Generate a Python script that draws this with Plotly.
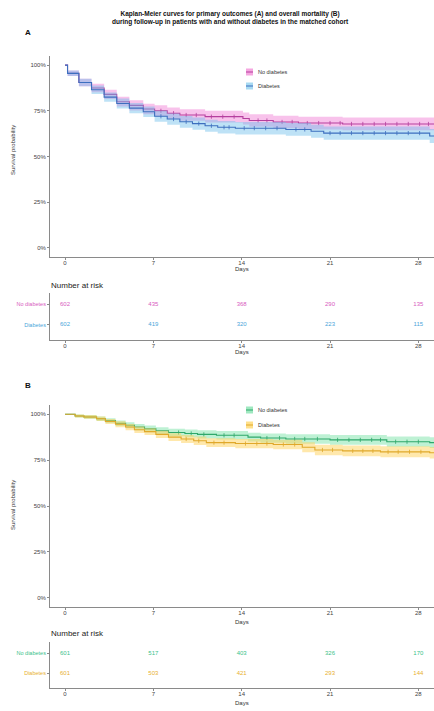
import plotly.graph_objects as go

W, H = 434, 711

# ---------------- DATA ----------------
title_lines = ["Kaplan-Meier curves for primary outcomes (A) and overall mortality (B)",
               "during follow-up in patients with and without diabetes in the matched cohort"]
groups = ["No diabetes", "Diabetes"]
risk_days = [0, 7, 14, 21, 28]
y_ticks = [0, 0.25, 0.5, 0.75, 1.0]

# Panel A - primary outcome
a_nd_t = [0, 0.2, 1.1, 2.1, 3.1, 4.1, 5.1, 6.2, 7.1, 8.1, 9.1, 11.1, 14.1, 14.6, 16.5, 18.5, 22.0, 29.3]
a_nd_s = [1.0, 0.955, 0.905, 0.875, 0.84, 0.80, 0.78, 0.76, 0.75, 0.737, 0.727, 0.718, 0.708, 0.697, 0.689, 0.683, 0.678, 0.678]
a_nd_lo = [1.0, 0.94, 0.885, 0.852, 0.815, 0.773, 0.752, 0.731, 0.72, 0.706, 0.695, 0.686, 0.675, 0.663, 0.655, 0.648, 0.643, 0.643]
a_nd_hi = [1.0, 0.97, 0.925, 0.898, 0.865, 0.827, 0.808, 0.789, 0.78, 0.768, 0.759, 0.75, 0.741, 0.731, 0.723, 0.718, 0.713, 0.713]

a_d_t = [0, 0.2, 1.1, 2.1, 3.1, 4.1, 5.1, 6.2, 7.1, 8.1, 9.1, 10.1, 11.1, 12.1, 13.5, 17.5, 19.5, 20.5, 28.9, 29.3]
a_d_s = [1.0, 0.955, 0.905, 0.865, 0.825, 0.79, 0.765, 0.745, 0.72, 0.705, 0.69, 0.68, 0.668, 0.66, 0.655, 0.648, 0.638, 0.628, 0.612, 0.612]
a_d_lo = [1.0, 0.94, 0.885, 0.842, 0.8, 0.763, 0.737, 0.716, 0.69, 0.674, 0.658, 0.647, 0.635, 0.626, 0.621, 0.613, 0.602, 0.592, 0.574, 0.574]
a_d_hi = [1.0, 0.97, 0.925, 0.888, 0.85, 0.817, 0.793, 0.774, 0.75, 0.736, 0.722, 0.713, 0.701, 0.694, 0.689, 0.683, 0.674, 0.664, 0.65, 0.65]

a_cens_nd = [7.6, 8.6, 9.6, 10.4, 11.6, 12.5, 13.4, 15.3, 16.0, 17.2, 18.0, 19.2, 20.1, 21.0, 21.8, 22.7, 23.6, 24.5, 25.4, 26.3, 27.2, 28.1, 28.8]
a_cens_d = [7.6, 8.6, 9.6, 10.6, 11.6, 12.6, 13.0, 14.2, 15.0, 15.9, 16.8, 18.3, 19.0, 21.0, 21.8, 22.7, 23.6, 24.5, 25.4, 26.3, 27.2, 28.1]

a_risk_nd = [602, 435, 368, 290, 135]
a_risk_d = [602, 419, 320, 223, 115]

# Panel B - overall mortality
b_nd_t = [0, 0.8, 1.5, 2.5, 3.2, 4.0, 4.8, 5.5, 6.3, 7.2, 8.2, 9.5, 10.5, 12.0, 14.5, 15.5, 17.5, 21.0, 25.5, 28.9, 29.3]
b_nd_s = [1.0, 0.99, 0.985, 0.975, 0.965, 0.95, 0.94, 0.93, 0.92, 0.91, 0.90, 0.895, 0.89, 0.885, 0.875, 0.87, 0.865, 0.86, 0.85, 0.845, 0.845]
b_nd_lo = [1.0, 0.982, 0.975, 0.963, 0.952, 0.935, 0.924, 0.913, 0.902, 0.891, 0.88, 0.874, 0.868, 0.862, 0.851, 0.845, 0.839, 0.833, 0.822, 0.816, 0.816]
b_nd_hi = [1.0, 0.998, 0.995, 0.987, 0.978, 0.965, 0.956, 0.947, 0.938, 0.929, 0.92, 0.916, 0.912, 0.908, 0.899, 0.895, 0.891, 0.887, 0.878, 0.874, 0.874]

b_d_t = [0, 0.8, 1.5, 2.5, 3.2, 4.0, 4.8, 5.5, 6.3, 7.2, 8.2, 9.2, 10.2, 11.2, 13.5, 16.5, 18.8, 19.8, 22.0, 25.0, 28.9, 29.3]
b_d_s = [1.0, 0.99, 0.985, 0.975, 0.96, 0.945, 0.93, 0.915, 0.905, 0.89, 0.875, 0.865, 0.855, 0.845, 0.84, 0.835, 0.82, 0.805, 0.80, 0.795, 0.79, 0.79]
b_d_lo = [1.0, 0.982, 0.975, 0.963, 0.946, 0.929, 0.913, 0.897, 0.886, 0.87, 0.854, 0.843, 0.832, 0.821, 0.815, 0.809, 0.793, 0.777, 0.771, 0.765, 0.759, 0.759]
b_d_hi = [1.0, 0.998, 0.995, 0.987, 0.974, 0.961, 0.947, 0.933, 0.924, 0.91, 0.896, 0.887, 0.878, 0.869, 0.865, 0.861, 0.847, 0.833, 0.829, 0.825, 0.821, 0.821]

b_cens_nd = [9.0, 10.0, 11.0, 12.6, 13.4, 16.0, 17.0, 18.2, 19.0, 20.0, 21.6, 22.5, 23.4, 24.3, 25.0, 26.2, 27.1, 28.0]
b_cens_d = [9.6, 10.6, 11.8, 12.6, 14.3, 15.2, 16.0, 17.3, 18.2, 20.4, 21.2, 22.8, 23.6, 24.4, 25.6, 26.4, 27.3, 28.2]

b_risk_nd = [601, 517, 403, 326, 170]
b_risk_d = [601, 503, 421, 293, 144]

# ---------------- STYLE ----------------
FONT = "Liberation Sans"
A_COL = {"line": ["#B53F9E", "#3D6FBF"], "fill": ["rgba(240,120,210,0.45)", "rgba(110,190,235,0.45)"],
         "text": ["#D85BC0", "#4AA6DA"], "key": ["#F5A6E0", "#A8DAF2"]}
B_COL = {"line": ["#2FA86A", "#E0A82A"], "fill": ["rgba(110,225,160,0.45)", "rgba(255,210,90,0.5)"],
         "text": ["#3BBF8A", "#E8B030"], "key": ["#9FE8C0", "#FFE08A"]}
AX = "#8a8a8a"
TICKC = "#444444"


def py(p):  # pixel y -> paper
    return 1 - p / H


def px(p):
    return p / W


def surv_at(t, times, surv):
    v = surv[0]
    for ti, si in zip(times, surv):
        if ti <= t:
            v = si
    return v


fig = go.Figure()

xrange_ = [-1.19, 29.24]
xdom = [px(50), 1.0]


def add_km(xa, ya, t, s, lo, hi, cens, line, fill):
    fig.add_trace(go.Scatter(x=t, y=lo, mode="lines", line=dict(width=0, shape="hv"),
                             xaxis=xa, yaxis=ya, showlegend=False, hoverinfo="skip"))
    fig.add_trace(go.Scatter(x=t, y=hi, mode="lines", line=dict(width=0, shape="hv"),
                             fill="tonexty", fillcolor=fill,
                             xaxis=xa, yaxis=ya, showlegend=False, hoverinfo="skip"))
    fig.add_trace(go.Scatter(x=t, y=s, mode="lines", line=dict(width=1.1, shape="hv", color=line),
                             xaxis=xa, yaxis=ya, showlegend=False))
    fig.add_trace(go.Scatter(x=cens, y=[surv_at(c, t, s) for c in cens], mode="markers",
                             marker=dict(symbol="line-ns-open", size=3, color=line,
                                         line=dict(width=0.8, color=line)),
                             xaxis=xa, yaxis=ya, showlegend=False))


add_km("x", "y", a_nd_t, a_nd_s, a_nd_lo, a_nd_hi, a_cens_nd, A_COL["line"][0], A_COL["fill"][0])
add_km("x", "y", a_d_t, a_d_s, a_d_lo, a_d_hi, a_cens_d, A_COL["line"][1], A_COL["fill"][1])
add_km("x3", "y3", b_nd_t, b_nd_s, b_nd_lo, b_nd_hi, b_cens_nd, B_COL["line"][0], B_COL["fill"][0])
add_km("x3", "y3", b_d_t, b_d_s, b_d_lo, b_d_hi, b_cens_d, B_COL["line"][1], B_COL["fill"][1])

# risk tables
for xa, ya, rows, cols in [("x2", "y2", [a_risk_nd, a_risk_d], A_COL), ("x4", "y4", [b_risk_nd, b_risk_d], B_COL)]:
    for i, (g, vals) in enumerate(zip(groups, rows)):
        fig.add_trace(go.Scatter(x=risk_days, y=[g] * len(vals), mode="text",
                                 text=[str(v) for v in vals],
                                 textfont=dict(family=FONT, size=6, color=cols["text"][i]),
                                 xaxis=xa, yaxis=ya, showlegend=False, hoverinfo="skip"))

axis_common = dict(showline=True, linecolor=AX, linewidth=1, ticks="outside", ticklen=2,
                   tickcolor=AX, tickwidth=1, showgrid=False, zeroline=False,
                   tickfont=dict(family=FONT, size=6, color=TICKC))

xcommon = dict(axis_common, domain=xdom, range=xrange_, tickvals=risk_days, ticklabelstandoff=-2)
ycommon = dict(axis_common, range=[-0.05, 1.05], tickvals=y_ticks, tickformat=".0%")


def risk_y(cols, dom):
    return dict(axis_common, domain=dom, type="category", categoryorder="array",
                categoryarray=[groups[1], groups[0]], range=[-0.75, 1.55],
                tickvals=[groups[1], groups[0]],
                ticktext=[f'<span style="color:{cols["text"][1]}">{groups[1]}</span>',
                          f'<span style="color:{cols["text"][0]}">{groups[0]}</span>'],
                tickfont=dict(family=FONT, size=5.5))


fig.update_layout(
    width=W, height=H, margin=dict(l=0, r=0, t=0, b=0),
    paper_bgcolor="white", plot_bgcolor="white",
    xaxis=dict(xcommon, anchor="y"),
    yaxis=dict(ycommon, domain=[py(257), py(56)], anchor="x"),
    xaxis2=dict(xcommon, anchor="y2"),
    yaxis2=dict(risk_y(A_COL, [py(340), py(293)]), anchor="x2"),
    xaxis3=dict(xcommon, anchor="y3"),
    yaxis3=dict(ycommon, domain=[py(607), py(405)], anchor="x3"),
    xaxis4=dict(xcommon, anchor="y4"),
    yaxis4=dict(risk_y(B_COL, [py(688), py(642)]), anchor="x4"),
    showlegend=False,
)


def note(x, y, text, size, color="#333", xanchor="center", bold=False, angle=0):
    return dict(x=px(x), y=py(y), xref="paper", yref="paper", showarrow=False,
                xanchor=xanchor, yanchor="middle", textangle=angle,
                text=("<b>" + text + "</b>") if bold else text,
                font=dict(family=FONT, size=size, color=color), align="center")


ann = [note(230, 18, title_lines[0] + "<br>" + title_lines[1], 6.5, "#111111", bold=True)]
for lab, yy in [("A", 33), ("B", 386)]:
    ann.append(note(28, yy, lab, 8, "#111", bold=True))
for yy in [150, 505]:
    ann.append(note(13, yy, "Survival probability", 6, angle=-90))
for yy in [269, 352, 622, 703]:
    ann.append(note(242, yy, "Days", 6))
for yy in [285, 633]:
    ann.append(note(49, yy, "Number at risk", 8, "#222", xanchor="left"))

shapes = []
for cols, ys in [(A_COL, [72, 86]), (B_COL, [410, 425])]:
    for i, (g, yy) in enumerate(zip(groups, ys)):
        shapes.append(dict(type="rect", xref="paper", yref="paper", x0=px(246), x1=px(253),
                           y0=py(yy + 3.5), y1=py(yy - 3.5), fillcolor=cols["key"][i], line=dict(width=0)))
        shapes.append(dict(type="line", xref="paper", yref="paper", x0=px(246), x1=px(253),
                           y0=py(yy), y1=py(yy), line=dict(color=cols["line"][i], width=1)))
        ann.append(note(256, yy, g, 5.5, xanchor="left"))

fig.update_layout(annotations=ann, shapes=shapes)
fig.write_html("out.html", config={"displayModeBar": False},
               post_script="document.body.style.margin='0';document.body.style.overflow='hidden';")
